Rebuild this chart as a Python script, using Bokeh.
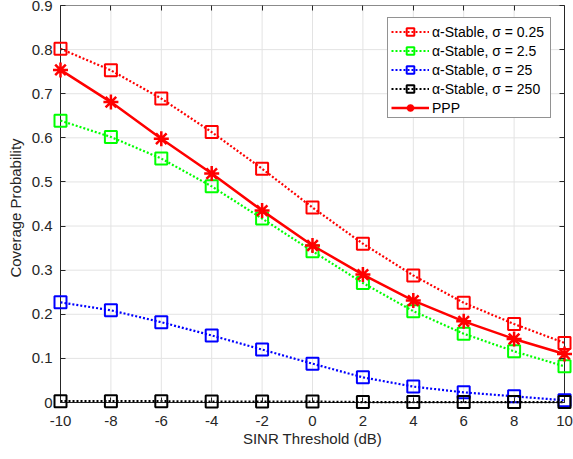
from bokeh.plotting import figure
from bokeh.models import (Range1d, FixedTicker, LinearAxis, Legend, LegendItem)
from bokeh.embed import file_html
from bokeh.resources import INLINE

# ---- data ----
sinr_db = [-10, -8, -6, -4, -2, 0, 2, 4, 6, 8, 10]
stable_025 = [0.802, 0.753, 0.689, 0.613, 0.530, 0.442, 0.360, 0.288, 0.226, 0.178, 0.135]
stable_25 = [0.639, 0.602, 0.553, 0.490, 0.417, 0.343, 0.271, 0.207, 0.156, 0.116, 0.082]
stable_250 = [0.227, 0.209, 0.182, 0.152, 0.120, 0.088, 0.057, 0.036, 0.023, 0.014, 0.005]
stable_2500 = [0.003, 0.003, 0.003, 0.002, 0.002, 0.002, 0.001, 0.001, 0.001, 0.001, 0.001]
ppp = [0.754, 0.681, 0.598, 0.519, 0.435, 0.356, 0.290, 0.231, 0.184, 0.144, 0.110]

series_labels = ["α-Stable, σ = 0.25", "α-Stable, σ = 2.5", "α-Stable, σ = 25",
                 "α-Stable, σ = 250", "PPP"]
series_colors = ["#ff0000", "#00ff00", "#0000ff", "#000000", "#ff0000"]

x_ticks = [-10, -8, -6, -4, -2, 0, 2, 4, 6, 8, 10]
x_tick_labels = ["-10", "-8", "-6", "-4", "-2", "0", "2", "4", "6", "8", "10"]
y_ticks = [0, 0.1, 0.2, 0.3, 0.4, 0.5, 0.6, 0.7, 0.8, 0.9]
y_tick_labels = ["0", "0.1", "0.2", "0.3", "0.4", "0.5", "0.6", "0.7", "0.8", "0.9"]

FONT = "Liberation Sans"
TXT = "#262626"

# layout: plot box 504 x 397 px, frame padded by PAD px so edge markers are not clipped
PAD = 8
BOX_W, BOX_H = 504, 397
xs_, xe_ = x_ticks[0], x_ticks[-1]
ys_, ye_ = y_ticks[0], y_ticks[-1]
xpad = PAD * (xe_ - xs_) / BOX_W
ypad = PAD * (ye_ - ys_) / BOX_H

p = figure(width=573, height=459, output_backend="svg", toolbar_location=None,
           x_range=Range1d(xs_ - xpad, xe_ + xpad), y_range=Range1d(ys_ - ypad, ye_),
           min_border_left=52, min_border_right=1, min_border_top=5, min_border_bottom=49)
p.background_fill_color = "white"
p.border_fill_color = "white"
p.outline_line_color = None
p.xgrid.visible = False
p.ygrid.visible = False

for ax in (p.xaxis[0], p.yaxis[0]):
    ax.axis_line_color = None
    ax.major_tick_line_color = TXT
    ax.major_tick_out = -PAD
    ax.major_tick_in = PAD + 5
    ax.minor_tick_line_color = None
    ax.major_label_text_font = FONT
    ax.major_label_text_font_size = "15px"
    ax.major_label_text_color = TXT
    ax.axis_label_text_font = FONT
    ax.axis_label_text_font_size = "15px"
    ax.axis_label_text_font_style = "normal"
    ax.axis_label_text_color = TXT

p.xaxis.ticker = FixedTicker(ticks=x_ticks)
p.yaxis.ticker = FixedTicker(ticks=y_ticks)
p.xaxis.major_label_overrides = {t: l for t, l in zip(x_ticks, x_tick_labels)}
p.yaxis.major_label_overrides = {t: l for t, l in zip(y_ticks, y_tick_labels)}
p.xaxis.axis_label = "SINR Threshold (dB)"
p.yaxis.axis_label = "Coverage Probability"
p.xaxis.major_label_standoff = 5
p.yaxis.major_label_standoff = 0
p.xaxis.axis_label_standoff = 1
p.yaxis.axis_label_standoff = 5

# ticks on right and top of the box
rax = LinearAxis(ticker=FixedTicker(ticks=y_ticks), major_label_text_font_size="0px",
                 major_tick_in=PAD + 5, major_tick_out=-PAD, axis_line_color=None,
                 major_tick_line_color=TXT, minor_tick_line_color=None,
                 major_label_standoff=0)
tax = LinearAxis(ticker=FixedTicker(ticks=x_ticks), major_label_text_font_size="0px",
                 major_tick_in=5, major_tick_out=0, axis_line_color=None,
                 major_tick_line_color=TXT, minor_tick_line_color=None,
                 major_label_standoff=0)
p.add_layout(rax, "right")
p.add_layout(tax, "above")

# grid lines limited to the box
GRID = "#e3e3e3"
p.segment(x0=x_ticks, y0=[ys_] * len(x_ticks), x1=x_ticks, y1=[ye_] * len(x_ticks),
          line_color=GRID, line_width=1)
p.segment(x0=[xs_] * len(y_ticks), y0=y_ticks, x1=[xe_] * len(y_ticks), y1=y_ticks,
          line_color=GRID, line_width=1)
# axes box
p.quad(left=[xs_], right=[xe_], bottom=[ys_], top=[ye_], fill_color=None,
       line_color=TXT, line_width=1)

items = []
all_series = [stable_025, stable_25, stable_250, stable_2500]
for vals, lab, col in zip(all_series, series_labels[:4], series_colors[:4]):
    lr = p.line(sinr_db, vals, line_color=col, line_width=2.2, line_dash="2 2")
    sr = p.scatter(sinr_db, vals, marker="square", size=12, fill_color=None,
                   line_color=col, line_width=2)
    items.append(LegendItem(label=lab, renderers=[lr, sr]))

lr = p.line(sinr_db, ppp, line_color=series_colors[4], line_width=2.5)
sr = p.scatter(sinr_db, ppp, marker="asterisk", size=15, line_color=series_colors[4],
               line_width=2.5)
items.append(LegendItem(label=series_labels[4], renderers=[lr, sr]))

# legend box: left edge 387 px, bottom edge 118 px from top of the page
legend = Legend(items=items, location=(335, 292))
legend.padding = dict(left=3, right=3, top=4, bottom=0)
legend.spacing = 0
legend.glyph_width = 38
legend.glyph_height = 19
legend.label_height = 19
legend.label_width = 115
legend.label_standoff = 3
legend.label_text_font = FONT
legend.label_text_font_size = "14px"
legend.label_text_color = "#000000"
legend.border_line_color = TXT
legend.border_line_width = 1
legend.background_fill_color = "white"
legend.background_fill_alpha = 1
p.add_layout(legend, "center")

open("out.html", "w").write(file_html(p, INLINE))
